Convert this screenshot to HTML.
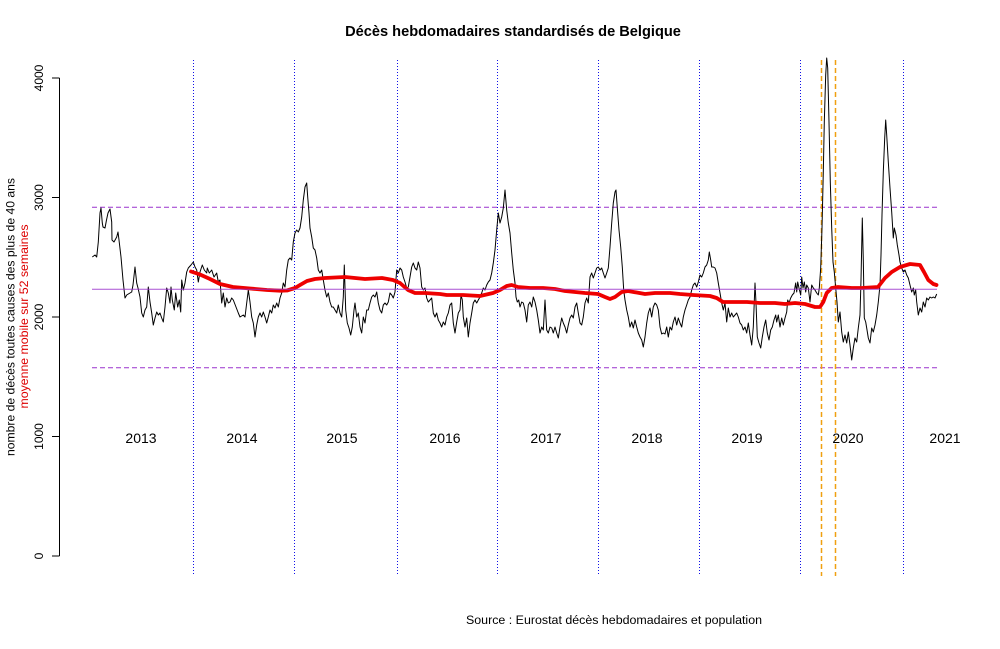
<!DOCTYPE html>
<html>
<head>
<meta charset="utf-8">
<style>
html,body{margin:0;padding:0;background:#fff;}
svg{display:block;}
text{font-family:"Liberation Sans",Arial,sans-serif;}
</style>
</head>
<body>
<svg width="1000" height="649" viewBox="0 0 1000 649" xmlns="http://www.w3.org/2000/svg">
<rect x="0" y="0" width="1000" height="649" fill="#fff"/>

<!-- Title -->
<text x="513" y="36" font-size="14.6" font-weight="bold" text-anchor="middle" fill="#000">Décès hebdomadaires standardisés de Belgique</text>

<!-- Y axis -->
<line x1="59.5" y1="78" x2="59.5" y2="556" stroke="#000" stroke-width="1"/>
<g stroke="#000" stroke-width="1">
<line x1="52" y1="78" x2="59.5" y2="78"/>
<line x1="52" y1="197.5" x2="59.5" y2="197.5"/>
<line x1="52" y1="317" x2="59.5" y2="317"/>
<line x1="52" y1="436.5" x2="59.5" y2="436.5"/>
<line x1="52" y1="556" x2="59.5" y2="556"/>
</g>
<g font-size="12" fill="#000" text-anchor="middle">
<text transform="translate(43,78) rotate(-90)">4000</text>
<text transform="translate(43,197.5) rotate(-90)">3000</text>
<text transform="translate(43,317) rotate(-90)">2000</text>
<text transform="translate(43,436.5) rotate(-90)">1000</text>
<text transform="translate(43,556) rotate(-90)">0</text>
</g>
<text transform="translate(14.5,317) rotate(-90)" font-size="12" fill="#000" text-anchor="middle" textLength="278" lengthAdjust="spacingAndGlyphs">nombre de décès toutes causes des plus de 40 ans</text>
<text transform="translate(28,316.5) rotate(-90)" font-size="12" fill="#dd0000" text-anchor="middle" textLength="184" lengthAdjust="spacingAndGlyphs">moyenne mobile sur 52 semaines</text>

<!-- Horizontal reference lines -->
<line x1="92" y1="207.3" x2="937" y2="207.3" stroke="#9a32cd" stroke-width="1" stroke-dasharray="5,3"/>
<line x1="92" y1="367.7" x2="937" y2="367.7" stroke="#9a32cd" stroke-width="1" stroke-dasharray="5,3"/>

<!-- Vertical year separators -->
<g stroke="#1010e8" stroke-width="1" stroke-dasharray="1,2" shape-rendering="crispEdges">
<line x1="193.5" y1="60" x2="193.5" y2="576"/>
<line x1="294.5" y1="60" x2="294.5" y2="576"/>
<line x1="397.5" y1="60" x2="397.5" y2="576"/>
<line x1="497.5" y1="60" x2="497.5" y2="576"/>
<line x1="598.5" y1="60" x2="598.5" y2="576"/>
<line x1="699.5" y1="60" x2="699.5" y2="576"/>
<line x1="800.5" y1="60" x2="800.5" y2="576"/>
<line x1="903.5" y1="60" x2="903.5" y2="576"/>
</g>
<g stroke="#f0a010" stroke-width="1.5" stroke-dasharray="5,3">
<line x1="821.5" y1="60" x2="821.5" y2="576"/>
<line x1="835.5" y1="60" x2="835.5" y2="576"/>
</g>

<!-- Year labels -->
<g font-size="14" fill="#000" text-anchor="middle">
<text x="141" y="443">2013</text>
<text x="242" y="443">2014</text>
<text x="342" y="443">2015</text>
<text x="445" y="443">2016</text>
<text x="546" y="443">2017</text>
<text x="647" y="443">2018</text>
<text x="747" y="443">2019</text>
<text x="848" y="443">2020</text>
<text x="945" y="443">2021</text>
</g>

<!-- Weekly deaths series -->
<polyline fill="none" stroke="#000" stroke-width="1" stroke-linejoin="round" points="
92.3,257 95,255 96.7,257 98.3,242 100,213 101,208 102.3,223 103,227 105,228 106.5,220 108,213 110,209 111.7,222 112,240 114,242 116.7,237 118,232 119,240 121,257 123,280 125,298 126.7,295 130,293 131.7,292 133,285 135,267 136.7,283 138,288 140,297 141.7,313 143.3,317 145,310 146.7,307 148.3,287 150,302 151.7,313 153.3,325 155,318 156.7,312 158.3,315 160,313 161.7,318 163.3,322 165,307 166.7,288 168.3,293 170,303 171,287 172.3,300 174.3,310 175.7,293 177.7,307 179.3,300 180.7,312 181.7,280 183.3,290 185,283 186.7,272 188.3,268 191,265 193.3,262 195,267 196.7,270 198.3,282 200,272 202.3,265 204.3,270 206.7,273
207.3,268 209.3,273 211.7,270 214,277 216.7,273 218.3,282 220,280 221.7,303 223.3,293 225,307 226.7,298 228.3,303 230,302 231.7,298 233.3,300 236,307 238.3,313 240,317 243.3,315 245,317 246.7,303 248.3,290 250,302 251.7,317 253.3,323 255,337 256.7,325 258.3,317 260,313 261.7,317 263.3,312 265,317 266.7,323 268.3,317 270,310 271.7,313 273.3,305 275,308 276.7,303 278.3,307 280,298 281.7,293 283.3,283 285,287 286.7,270 288.3,260 290,258 291.7,260 293.3,242 295,233 296.7,230 298.3,232 300,228 301.7,217 303.3,200 305,187 306.7,183 307.7,197 309,213 310,228 311.7,237 313.3,248 315,250
316.7,258 318.3,270 320,273 321.7,270 323.3,280 325,290 326.7,297 328.3,293 330,302 331.7,307 333.3,307 335,310 336.7,313 338.3,305 340,313 341.7,317 343.3,297 344.3,265 345.7,310 347.3,323 349,328 350.7,335 352.3,327 354,310 355,303 356.7,317 358.3,313 360,327 361.7,333 363.3,317 365,323 366.7,310 368.3,310 370,303 371.7,297 373.3,295 375,297 376.7,292 378.3,303 380,310 381.7,313 383.3,305 385,303 386.7,305 388.3,302 390,293 391.7,295 393.3,298 395,292 396.7,270 398.3,273 400,268 401.7,270 403.3,277 405,282 406.7,288 408.3,287 410,277 411.7,267 413.3,263 415,268 416.7,270 418.3,262 420,268 421.7,287 423.3,290 425,288 426.7,298 428.3,302 430,300
431.7,298 433.3,313 435,317 436.7,313 438.3,320 440,323 441.7,327 443.3,322 445,325 446.7,317 448.3,313 450,305 451.7,303 453.3,323 455,333 456.7,322 458.3,313 460,310 461,295 462.3,300 463.3,317 465,327 466.7,318 468.3,337 470,323 471.7,313 473.3,303 475,300 476.7,303 478.3,300 480,297 481.7,293 483.3,288 485,290 486.7,285 488.3,282 490,280 491.7,273 493.3,263 495,250 496.7,230 498.3,213 500,223 501.7,217 503.3,208 505,190 506.7,210 508.3,223 510,233 511.7,253 513.3,270 515,283 516,297 517.3,302 518.7,300 520,307 521.7,302 523.3,303 525,310 526.7,322 528.3,305 530,302 531.7,307 533.3,297 535,302 536.7,310 538.3,320 540,333 541.7,327 543.3,330 545,300 546.7,330 548.3,333 550,327 551.7,328 553.3,333 555,327
556.7,333 558.3,338 560,327 561.7,318 563.3,323 565,327 566.7,333 568.3,325 570,318 571.7,315 573.3,318 575,307 576.7,303 578.3,313 580,323 581.7,325 583.3,317 585,303 586.7,298 588.3,303 590,277 591.7,273 593.3,278 595,273 596.7,268 598.3,267 600,270 601.7,268 603.3,273 605,278 606.7,273 608.3,268 610,247 611.7,223 613.3,203 615,192 616,190 617.7,213 619,230 620.7,247 622.3,267 623.7,290 625,300 626.7,310 628.3,317 630,327 631.7,322 633.3,328 635,320 636.7,327 638.3,333 640,337 641.7,340 643.3,347 645,337 646.7,323 648.3,313 650,308 651.7,317 653.3,307 655,303 656.7,305 658.3,310 660,327 661.7,334 663.3,333 665,334 666.7,327 668.3,337 670,327
671.7,330 673.3,322 675,317 676.7,325 678.3,318 680,323 681.7,327 683.3,317 685,310 686.7,305 688.3,300 690,297 691.7,290 693.3,285 695,283 696.7,287 698.3,282 700,275 701.7,277 703.3,273 705,267 706.7,265 708.3,260 709.3,252 710.7,260 711.7,267 713.3,267 715,268 716.7,273 718.3,283 720,293 721.7,303 723.3,310 725,303 726.7,322 728.3,308 730,317 731.7,313 733.3,317 735,315 736.7,313 738.3,317 740,323 741.7,325 743.3,330 745,327 746.7,333 748.3,323 750,335 751.7,345 753.3,327 755,283 756,303 757.3,337 759,343 760.7,348 762.3,337 764,327 765.7,320 767.3,333 769,340 770.7,330 772.3,327 774,320 775.7,315
776.7,322 778.3,315 780,327 781.7,318 783.3,325 785,318 786.7,312 787.7,300 789,303 790.7,298 792.3,295 794,293 795.7,283 796.7,292 797.7,282 799,288 800.7,295 801.7,277 803,288 804.3,282 805.7,292 806.7,285 808.3,288 810,302 811.7,285 813.3,288 815,290 816.7,293 818.3,295 819.3,288 820.7,268 822,228 823.3,172 824.3,122 825.7,75 826.7,58 827.7,68 829,122 830.3,182 831.7,228 833,262 834.3,272 835.7,288 837,302 838.3,322 840,312 841.7,332 843.3,342 845,335 846.7,343 848.3,332 850,345 851.7,360 853.3,348 855,338 856.7,342 858.3,328 860,315 861,280 862.3,218 863.3,260 864.3,318
865.7,322 866.7,328 868.3,338 870,343 871.7,328 873.3,332 875,325 876.7,315 878.3,302 880,285 881,255 882,215 883.3,172 884.7,138 885.7,120 886.7,135 888.3,162 890,188 891.7,212 893.3,238 894.3,228 896,235 897.3,245 899,255 900,262 901.7,268 903.3,272 905,270 906.7,275 908.3,278 910,285 911.7,292 913.3,288 914.3,295 915.7,290 916.7,302 918.3,315 920,308 921.7,312 923.3,302 925,307 926.7,298 928.3,300 930,297 931.7,298 933.3,297 935,298 936.7,294
"/>

<!-- Moving average -->
<polyline fill="none" stroke="#ee0000" stroke-width="3.8" stroke-linejoin="round" stroke-linecap="round" points="
191,271.5 200,274.5 210,279 220,284 233,287 250,288.5 267,290 280,290.7 287,290.5 295,288 300,285 307,281 315,279 325,278 345,277 365,279 382,278 393,280 400,283 408,290 415,293 425,293 440,294 446.7,295 463,295 480,296 493,293 500,290 506.7,286 511.7,285 518,287 530,288 543,288 555,289 565,291 585,293 598,294 605,297 610,299 615,297 621.7,292 628,291 645,294 655,293 670,293 680,294 693,295 710,296 716.7,298 723,302 730,302 747,302 760,303 775,303 785,304 795,303 805,304 815,307 820,307 823.3,302 826.7,293 831.7,288 838,287 851.7,288 861.7,288 878,287 885,278 891.7,272 900,267 910,264 920,265 924,272 928.3,280 933.3,284 936.5,285
"/>

<!-- Mean line (solid purple) -->
<line x1="92" y1="289.3" x2="937" y2="289.3" stroke="#9a32cd" stroke-width="1" stroke-opacity="0.85"/>

<!-- Source -->
<text x="466" y="624" font-size="12.4" fill="#000" textLength="296" lengthAdjust="spacingAndGlyphs">Source : Eurostat décès hebdomadaires et population</text>
</svg>
</body>
</html>
